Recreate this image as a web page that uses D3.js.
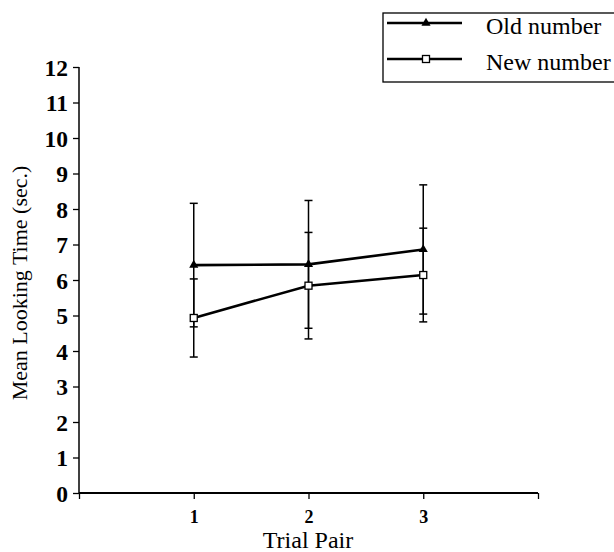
<!DOCTYPE html>
<html><head><meta charset="utf-8">
<script src="https://cdn.jsdelivr.net/npm/d3@7"></script>
<style>body{margin:0;background:#fff}svg{display:block}</style>
</head><body><svg id="c" width="614" height="552" font-family="Liberation Serif"></svg>
<script>
const trialPairs = [1, 2, 3];
const oldNumber = [6.42, 6.44, 6.86];
const oldError = [1.74, 1.8, 1.82];
const newNumber = [4.93, 5.84, 6.14];
const newError = [1.1, 1.5, 1.32];
const yTicks = [0,1,2,3,4,5,6,7,8,9,10,11,12];
const xTicks = [0,1,2,3,4];
const xTickLabels = ["", "1", "2", "3", ""];
const seriesNames = ["Old number", "New number"];

const svg = d3.select("#c");
const x = d3.scaleLinear().domain([0,4]).range([79,538]);
const y = d3.scaleLinear().domain([0,12]).range([493,67]);
const serif = "Liberation Serif";

// y axis
const ya = svg.append("g").attr("transform","translate(79,0)")
  .call(d3.axisLeft(y).tickValues(yTicks).tickSize(6).tickPadding(5).tickFormat(d3.format("d")));
ya.attr("font-family",serif);
ya.select(".domain").attr("stroke","#000").attr("stroke-width",1.5).attr("d","M0,67V493");
ya.selectAll(".tick line").attr("stroke-width",1.3);
ya.selectAll("text").attr("font-family",serif).attr("font-weight","bold").attr("font-size",23.5).attr("fill","#000").attr("dy","0.34em");

// x axis
const xa = svg.append("g").attr("transform","translate(0,493)")
  .call(d3.axisBottom(x).tickValues(xTicks).tickSize(6).tickPadding(11).tickFormat((d,i)=>xTickLabels[i]));
xa.attr("font-family",serif);
xa.select(".domain").attr("stroke","#000").attr("stroke-width",2).attr("d","M79,0H538");
xa.selectAll(".tick line").attr("stroke-width",1.3);
xa.selectAll("text").attr("font-family",serif).attr("font-weight","bold").attr("font-size",18).attr("fill","#000");

// axis titles
svg.append("text").attr("x",308).attr("y",548).attr("text-anchor","middle")
  .attr("font-family",serif).attr("font-size",24).text("Trial Pair");
svg.append("text").attr("transform","translate(27,283) rotate(-90)").attr("text-anchor","middle")
  .attr("font-family",serif).attr("font-size",22).text("Mean Looking Time (sec.)");

const series = [
  {name: seriesNames[0], vals: oldNumber, err: oldError, marker: "tri"},
  {name: seriesNames[1], vals: newNumber, err: newError, marker: "sq"}
];

// error bars
const cap = 4;
series.forEach(s => {
  s.vals.forEach((v,i) => {
    const cx = x(trialPairs[i]);
    const g = svg.append("g").attr("stroke","#000").attr("stroke-width",1.5);
    g.append("line").attr("x1",cx).attr("x2",cx).attr("y1",y(v+s.err[i])).attr("y2",y(v-s.err[i]));
    [v+s.err[i], v-s.err[i]].forEach(e => {
      g.append("line").attr("x1",cx-cap).attr("x2",cx+cap).attr("y1",y(e)).attr("y2",y(e));
    });
  });
});

const line = d3.line().x((d,i)=>x(trialPairs[i])).y(d=>y(d));
function drawMarker(g, type, cx, cy) {
  if (type === "tri") {
    g.append("path").attr("d", d3.symbol(d3.symbolTriangle, 36)()).attr("transform",`translate(${cx},${cy})`).attr("fill","#000");
  } else {
    g.append("rect").attr("x",cx-3.5).attr("y",cy-3.5).attr("width",7).attr("height",7)
      .attr("fill","#fff").attr("stroke","#000").attr("stroke-width",1.3);
  }
}
series.forEach(s => {
  svg.append("path").datum(s.vals).attr("d",line).attr("fill","none").attr("stroke","#000").attr("stroke-width",2.6);
  const g = svg.append("g");
  s.vals.forEach((v,i) => drawMarker(g, s.marker, x(trialPairs[i]), y(v)));
});

// legend
const lg = svg.append("g");
lg.append("rect").attr("x",383).attr("y",13).attr("width",240).attr("height",69)
  .attr("fill","#fff").attr("stroke","#000").attr("stroke-width",1.3);
series.forEach((s,i) => {
  const ly = 23 + i*36;
  lg.append("line").attr("x1",387).attr("x2",462).attr("y1",ly).attr("y2",ly).attr("stroke","#000").attr("stroke-width",2.6);
  drawMarker(lg, s.marker, 426, ly);
  lg.append("text").attr("x",486).attr("y",ly+11).attr("font-family",serif).attr("font-size",24).text(s.name);
});
</script></body></html>
